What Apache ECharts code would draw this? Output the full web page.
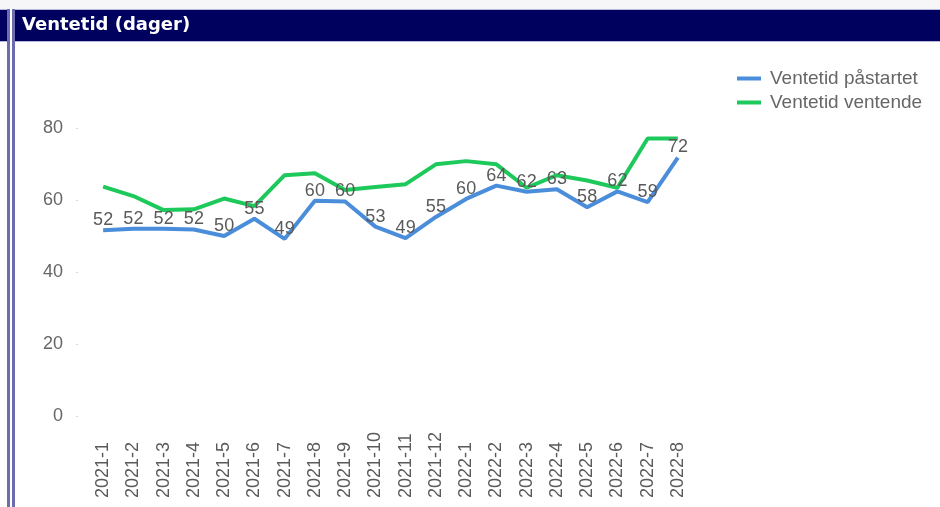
<!DOCTYPE html>
<html>
<head>
<meta charset="utf-8">
<script src="https://cdn.jsdelivr.net/npm/echarts@6/dist/echarts.min.js"></script>
<style>
  html, body { margin: 0; padding: 0; background: #fff; }
  #chart { width: 940px; height: 507px; }
</style>
</head>
<body>
<div id="chart"></div>
<script>
// Ventetid (dager) — monthly waiting time, two series
const months = [
  "2021-1", "2021-2", "2021-3", "2021-4", "2021-5", "2021-6", "2021-7", "2021-8", "2021-9", "2021-10",
  "2021-11", "2021-12", "2022-1", "2022-2", "2022-3", "2022-4", "2022-5", "2022-6", "2022-7", "2022-8"
];
const startet = [51.6, 52, 52, 51.8, 50, 54.8, 49.2, 59.8, 59.6, 52.6, 49.4, 55.3, 60.3, 64, 62.3, 63, 58, 62.4, 59.4, 71.8];
const ventende = [63.7, 61.1, 57.2, 57.4, 60.4, 58.3, 66.9, 67.4, 62.8, 63.6, 64.4, 69.9, 70.8, 69.9, 63.4, 66.9, 65.4, 63.4, 77.1, 77.1];
const yTicks = { min: 0, max: 80, step: 20 };

const FONT = "Liberation Sans, Arial, sans-serif";
const NAVY = "#00005f";
const FRAME = "#6c6cae";
const BLUE = "#4a8dda";
const GREEN = "#1dc95a";

const chart = echarts.init(document.getElementById("chart"));
chart.setOption({
  backgroundColor: "#fff",
  animation: false,
  graphic: [
    { type: "rect", shape: { x: 0, y: 0, width: 940, height: 9 }, style: { fill: "#f6f6f8" } },
    { type: "rect", shape: { x: 0, y: 9, width: 940, height: 33 }, style: { fill: "#b8b8d8" } },
    { type: "rect", shape: { x: 0, y: 10, width: 940, height: 31 }, style: { fill: NAVY } },
    { type: "rect", shape: { x: 7, y: 9, width: 8, height: 498 }, style: { fill: "#fff" } },
    { type: "rect", shape: { x: 7, y: 9, width: 3, height: 498 }, style: { fill: FRAME } },
    { type: "rect", shape: { x: 12, y: 9, width: 3, height: 498 }, style: { fill: FRAME } },
    { type: "text", left: 22, top: 16, style: { text: "Ventetid (dager)", fill: "#fff", font: "bold 18px 'DejaVu Sans', Verdana, sans-serif" } }
  ],
  legend: {
    left: 732, top: 64, orient: "vertical",
    icon: "rect", itemWidth: 24, itemHeight: 4, itemGap: 5,
    textStyle: { color: "#666", fontSize: 19, fontFamily: FONT, lineHeight: 18, padding: [0, 0, 0, 4] },
    data: ["Ventetid påstartet", "Ventetid ventende"]
  },
  grid: { left: 88, right: 247, top: 128, bottom: 91, containLabel: false },
  xAxis: {
    type: "category", data: months, boundaryGap: true,
    axisLine: { show: false }, axisTick: { show: false },
    axisLabel: { rotate: 90, align: "left", margin: 82, color: "#5a5a5a", fontSize: 18, fontFamily: FONT, interval: 0 }
  },
  yAxis: {
    type: "value", min: yTicks.min, max: yTicks.max, interval: yTicks.step, offset: 10,
    axisLine: { show: false },
    axisTick: { show: true, length: 2, lineStyle: { color: "#d8d8d8" } },
    splitLine: { show: false },
    axisLabel: { margin: 15, color: "#666", fontSize: 18, fontFamily: FONT }
  },
  series: [
    {
      name: "Ventetid påstartet", type: "line", data: startet, symbol: "circle", symbolSize: 0.1, showSymbol: true,
      lineStyle: { color: BLUE, width: 4 }, itemStyle: { color: BLUE }, z: 3,
      label: { show: true, position: "top", distance: 1, color: "#5a5a5a", fontSize: 18, fontFamily: FONT,
        formatter: (p) => Math.round(p.value) }
    },
    {
      name: "Ventetid ventende", type: "line", data: ventende, symbol: "none",
      lineStyle: { color: GREEN, width: 4 }, itemStyle: { color: GREEN }, z: 2
    }
  ]
});
</script>
</body>
</html>
